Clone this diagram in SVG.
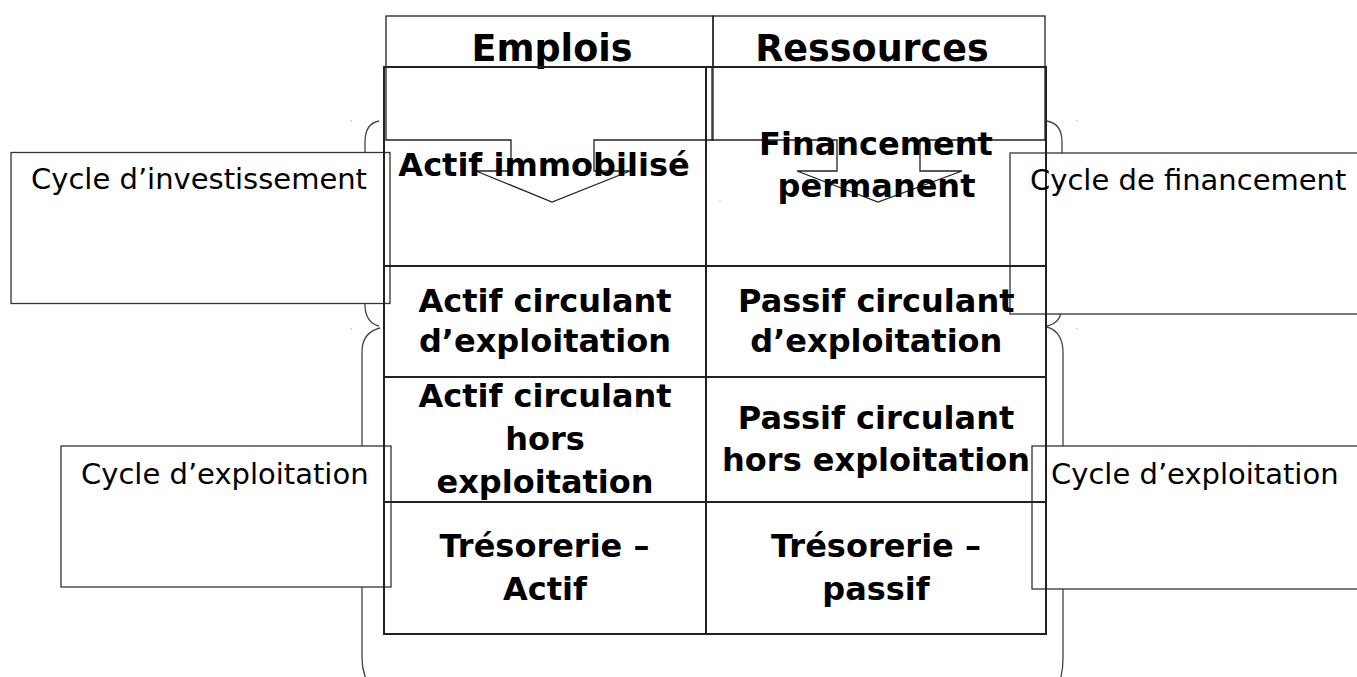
<svg xmlns="http://www.w3.org/2000/svg" width="1357" height="677" viewBox="0 0 1357 677">
<style>
.brace{fill:none;stroke:#444;stroke-width:1.3}
.box{fill:#fff;stroke:#333;stroke-width:1.3}
.tbl{fill:none;stroke:#222;stroke-width:2}
.hdr{fill:none;stroke:#222;stroke-width:1.3}
.arr{fill:none;stroke:#222;stroke-width:1.3}
.lbl{font-family:"DejaVu Sans","Noto Sans",sans-serif;font-size:29px;fill:#000}
.cell{font-family:"DejaVu Sans","Noto Sans",sans-serif;font-size:32px;font-weight:bold;fill:#000;text-anchor:middle}
.head{font-family:"DejaVu Sans","Noto Sans",sans-serif;font-size:36.5px;font-weight:bold;fill:#000;text-anchor:middle}
.dot{fill:#888}
</style>
<rect width="1357" height="677" fill="#fff"/>
<g id="connectors">
<path class="brace" d="M379,121 C368,123 365,132 365,142 L365,210 C365,218 360,223 351,223 C360,223 365,228 365,236 L365,305 C365,316 370,324 379,326"/>
<path class="brace" d="M380,328 C368,331 362,340 362,352 L362,500 C362,508 358,514 349,514 C358,514 362,520 362,528 L362,658 C362,672 368,690 380,700"/>
<path class="brace" d="M1047,121 C1058,123 1062,132 1062,142 L1062,210 C1062,218 1067,223 1076,223 C1067,223 1062,228 1062,236 L1062,305 C1062,316 1057,324 1047,326"/>
<path class="brace" d="M1047,327 C1058,330 1063,340 1063,352 L1063,500 C1063,508 1067,514 1076,514 C1067,514 1063,520 1063,528 L1063,658 C1063,672 1060,690 1047,700"/>
<rect class="dot" x="350.5" y="120.5" width="1" height="1"/>
<rect class="dot" x="350.5" y="328.5" width="1" height="1"/>
<rect class="dot" x="1076.5" y="120.5" width="1" height="1"/>
<rect class="dot" x="1076.5" y="328.5" width="1" height="1"/>
<rect class="dot" x="719.5" y="200.5" width="1" height="1"/>
</g>
<g id="box-invest"><rect class="box" x="11" y="152.5" width="379" height="151"/></g>
<g id="box-fin"><rect class="box" x="1010" y="153" width="360" height="161"/></g>
<g id="box-expl-left"><rect class="box" x="61" y="446" width="330" height="141"/></g>
<g id="box-expl-right"><rect class="box" x="1032" y="446" width="340" height="143"/></g>
<g id="header">
<rect class="hdr" x="386" y="16" width="327" height="51"/>
<rect class="hdr" x="713" y="16" width="332" height="51"/>
<text class="head" x="552" y="61">Emplois</text>
<text class="head" x="872" y="61">Ressources</text>
</g>
<g id="table">
<rect class="tbl" x="384" y="67" width="662" height="567"/>
<line class="tbl" x1="706" y1="67" x2="706" y2="634"/>
<line class="tbl" x1="384" y1="266" x2="1046" y2="266"/>
<line class="tbl" x1="384" y1="377" x2="1046" y2="377"/>
<line class="tbl" x1="384" y1="502" x2="1046" y2="502"/>
</g>
<g id="arrow-left"><polygon class="arr" points="386,67 713,67 713,140 594,140 594,171 630,171 552,202 476,171 511,171 511,140 386,140"/></g>
<g id="arrow-right"><polygon class="arr" points="712,67 1045,67 1045,140 920,140 920,171 962,171 878,202 797,171 837,171 837,140 712,140"/></g>
<g id="cells">
<text class="cell" x="544" y="176">Actif immobilisé</text>
<text class="cell" x="876" y="155">Financement</text>
<text class="cell" x="876.5" y="197">permanent</text>
<text class="cell" x="545" y="311.5">Actif circulant</text>
<text class="cell" x="545" y="352">d’exploitation</text>
<text class="cell" x="876.3" y="311.5">Passif circulant</text>
<text class="cell" x="876.3" y="352">d’exploitation</text>
<text class="cell" x="545" y="407">Actif circulant</text>
<text class="cell" x="545" y="450">hors</text>
<text class="cell" x="545" y="493">exploitation</text>
<text class="cell" x="876" y="429">Passif circulant</text>
<text class="cell" x="876" y="471">hors exploitation</text>
<text class="cell" x="544.5" y="557">Trésorerie –</text>
<text class="cell" x="545" y="600">Actif</text>
<text class="cell" x="876" y="557">Trésorerie –</text>
<text class="cell" x="876" y="600">passif</text>
</g>
<g id="labels">
<text class="lbl" x="31" y="188.5">Cycle d’investissement</text>
<text class="lbl" x="1030" y="189.5">Cycle de financement</text>
<text class="lbl" x="81" y="483.5">Cycle d’exploitation</text>
<text class="lbl" x="1051" y="483.5">Cycle d’exploitation</text>
</g>
</svg>
